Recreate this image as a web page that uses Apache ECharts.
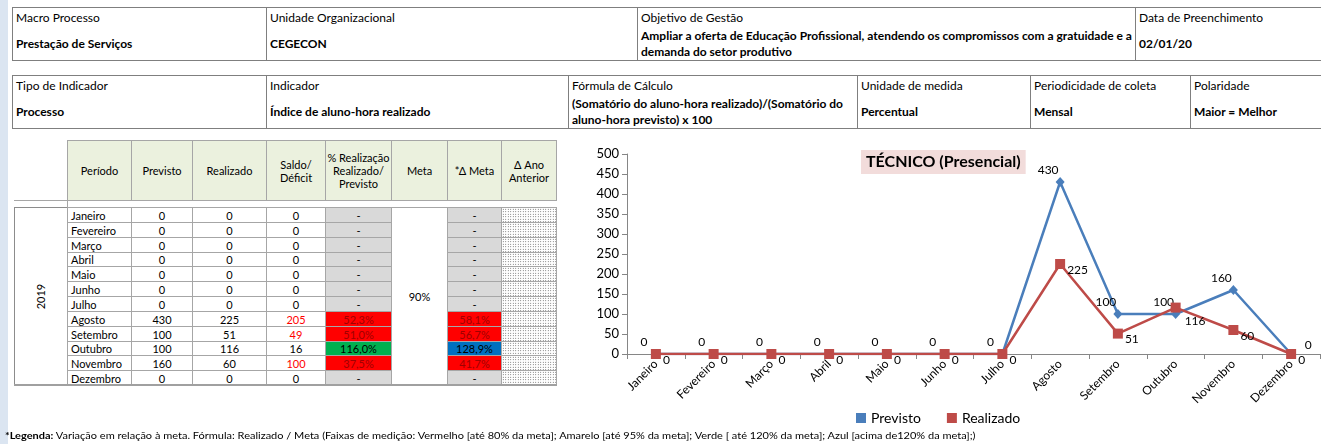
<!DOCTYPE html>
<html><head><meta charset="utf-8">
<script src="https://cdn.jsdelivr.net/npm/echarts@6/dist/echarts.min.js"></script>
<style>
html,body{margin:0;padding:0;background:#fff;}
body{width:1321px;height:444px;position:relative;overflow:hidden;font-family:'Lato','Open Sans',sans-serif;color:#000;}
.abs{position:absolute;box-sizing:border-box;}
.stripe{left:0;top:0;width:8px;height:444px;background:#dbe5f1;}
.ibox{border:1px solid #7f7f7f;}
.lbl{position:absolute;left:3px;font-size:12px;line-height:14px;white-space:nowrap;}
.val{position:absolute;left:3px;font-size:12px;font-weight:bold;line-height:16px;white-space:nowrap;}
.cell{border:1px solid #a6a6a6;display:flex;align-items:center;justify-content:center;font-size:11px;line-height:13px;text-align:center;white-space:nowrap;}
.hdr{background:#ebf1de;}
.left{justify-content:flex-start;padding-left:3px;}
.gray{background:#d9d9d9;}
.dots{background-color:#fff;background-image:radial-gradient(circle,#444 0.55px,transparent 0.75px);background-size:2.5px 2.5px;}
#chart{position:absolute;left:570px;top:140px;width:751px;height:304px;}
#foot{position:absolute;left:5px;top:429px;font-size:10px;line-height:12px;white-space:nowrap;transform-origin:0 0;}
</style></head>
<body>
<div class="abs stripe"></div>
<div id="info"></div>
<div id="tbl"></div>
<div id="chart"></div>
<div id="foot"><b>*Legenda:</b> Variação em relação à meta. Fórmula: Realizado / Meta (Faixas de medição: Vermelho [até 80% da meta]; Amarelo [até 95% da meta]; Verde [ até 120% da meta]; Azul [acima de120% da meta];)</div>
<script>
// ---- data ----
const months = ['Janeiro','Fevereiro','Março','Abril','Maio','Junho','Julho','Agosto','Setembro','Outubro','Novembro','Dezembro'];
const previsto = [0,0,0,0,0,0,0,430,100,100,160,0];
const realizado = [0,0,0,0,0,0,0,225,51,116,60,0];
const saldo = [0,0,0,0,0,0,0,-205,-49,16,-100,0];
const pctRealizacao = ['-','-','-','-','-','-','-','52,3%','51,0%','116,0%','37,5%','-'];
const deltaMeta = ['-','-','-','-','-','-','-','58,1%','56,7%','128,9%','41,7%','-'];
const meta = '90%';
const year = '2019';
const headers = ['Período','Previsto','Realizado','Saldo/<br>Déficit','% Realização<br>Realizado/<br>Previsto','Meta','*Δ Meta','Δ Ano<br>Anterior'];
const infoRow1 = [['Macro Processo',['Prestação de Serviços']],['Unidade Organizacional',['CEGECON']],['Objetivo de Gestão',['Ampliar a oferta de Educação Profissional, atendendo os compromissos com a gratuidade e a','demanda do setor produtivo']],['Data de Preenchimento',['02/01/20']]];
const infoRow2 = [['Tipo de Indicador',['Processo']],['Indicador',['Índice de aluno-hora realizado']],['Fórmula  de Cálculo',['(Somatório do aluno-hora realizado)/(Somatório do','aluno-hora previsto) x 100']],['Unidade de medida',['Percentual']],['Periodicidade de coleta',['Mensal']],['Polaridade',['Maior = Melhor']]];
const seriesNames = ['Previsto','Realizado'];
const chartTitle = 'TÉCNICO (Presencial)';

// ---- info boxes ----
const info = document.getElementById('info');
function infoRow(row, xs, top, h){
  row.forEach((c,i)=>{
    const d=document.createElement('div');
    d.className='abs ibox';
    d.style.left=xs[i]+'px';d.style.top=top+'px';d.style.width=(xs[i+1]-xs[i]+1)+'px';d.style.height=h+'px';
    const l=document.createElement('div');l.className='lbl';l.style.top='3px';l.textContent=c[0];d.appendChild(l);
    const v=document.createElement('div');v.className='val';
    v.style.top=(c[1].length>1?20:28)+'px';
    v.innerHTML=c[1].join('<br>');d.appendChild(v);
    info.appendChild(d);
  });
}
infoRow(infoRow1,[12,266,637,1135,1322],7,54);
infoRow(infoRow2,[12,266,568,857,1030,1190,1322],75,54);

// ---- data table ----
const tbl=document.getElementById('tbl');
const cx=[67,131,192,266,325,391,447,501,556];
function cell(x0,x1,y0,y1,html,cls,style){
  const d=document.createElement('div');
  d.className='abs cell '+(cls||'');
  d.style.left=x0+'px';d.style.top=y0+'px';d.style.width=(x1-x0+1)+'px';d.style.height=(y1-y0+1)+'px';
  d.innerHTML=html;
  if(style) Object.assign(d.style,style);
  tbl.appendChild(d);return d;
}
headers.forEach((h,i)=>cell(cx[i],cx[i+1],140,200,h,'hdr'));
const sep=document.createElement('div');sep.className='abs';
Object.assign(sep.style,{left:'14px',top:'200px',width:'543px',height:'1px',background:'#a6a6a6'});tbl.appendChild(sep);
const vsep=document.createElement('div');vsep.className='abs';
Object.assign(vsep.style,{left:'67px',top:'200px',width:'1px',height:'8px',background:'#a6a6a6'});tbl.appendChild(vsep);
const y0=207, rh=(385-207)/12;
const yc=i=>Math.round(y0+i*rh);
cell(14,67,y0,385,'<span style="display:inline-block;transform:rotate(-90deg);font-size:11px">'+year+'</span>','',{border:'1px solid #8c8c8c'});
function colorFor(s){
  if(s==='-') return null;
  const v=parseFloat(s.replace('%','').replace(',','.'));
  if(v<=80) return ['#ff0000','#a00000'];
  if(v<=95) return ['#ffff00','#000'];
  if(v<=120) return ['#00b050','#000'];
  return ['#0070c0','#000'];
}
months.forEach((m,i)=>{
  const a=yc(i), b=yc(i+1);
  cell(cx[0],cx[1],a,b,m,'left');
  cell(cx[1],cx[2],a,b,String(previsto[i]));
  cell(cx[2],cx[3],a,b,String(realizado[i]));
  cell(cx[3],cx[4],a,b,String(Math.abs(saldo[i])),'',{color:saldo[i]<0?'#ff0000':'#000'});
  [[4,pctRealizacao[i]],[6,deltaMeta[i]]].forEach(([k,s])=>{
    const c=colorFor(s);
    if(c) cell(cx[k],cx[k+1],a,b,s,'',{background:c[0],color:c[1]});
    else cell(cx[k],cx[k+1],a,b,s,'gray');
  });
  cell(cx[7],cx[8],a,b,'','dots');
});
cell(cx[5],cx[6],y0,385,meta,'',{background:'#fff'});
const bot=document.createElement('div');bot.className='abs';
Object.assign(bot.style,{left:'14px',top:'384px',width:'543px',height:'2px',background:'#a0a0a0'});tbl.appendChild(bot);

// footer fit
const foot=document.getElementById('foot');
foot.style.transform='scaleX('+(970/foot.offsetWidth)+')';

// ---- chart ----
const chart=echarts.init(document.getElementById('chart'),null,{renderer:'canvas'});
const FONT="'Lato','Open Sans',sans-serif";
const prevData=previsto.map((v,i)=> i===months.length-1 ? {value:v,label:{position:'right',offset:[8,-9]}} : v);
const realData=realizado.map((v,i)=> i===9 ? {value:v,label:{offset:[2,14]}} : v);
chart.setOption({
  animation:false,
  textStyle:{fontFamily:FONT},
  title:{text:chartTitle,left:291,top:10,padding:[4,5,4,5],backgroundColor:'#f2dcdb',
    textStyle:{fontSize:16,fontWeight:'bold',color:'#000',fontFamily:FONT}},
  legend:{left:281,top:266,itemWidth:10,itemHeight:10,itemGap:26,icon:'rect',
    textStyle:{fontSize:14,color:'#000',fontFamily:FONT},
    data:[{name:seriesNames[0],icon:'rect'},{name:seriesNames[1],icon:'rect'}]},
  grid:{left:57,right:1,top:14,bottom:90,containLabel:false},
  xAxis:{type:'category',data:months,boundaryGap:true,
    axisLine:{lineStyle:{color:'#868686',width:1}},
    axisTick:{show:true,length:5,lineStyle:{color:'#868686'}},
    axisLabel:{rotate:45,interval:0,fontSize:12,color:'#000',margin:8,fontFamily:FONT}},
  yAxis:{type:'value',min:0,max:500,interval:50,
    axisLine:{show:true,lineStyle:{color:'#868686',width:1}},
    axisTick:{show:true,length:5,lineStyle:{color:'#868686'}},
    splitLine:{show:false},
    axisLabel:{fontSize:13,color:'#000',margin:8,fontFamily:FONT}},
  series:[
    {name:seriesNames[0],type:'line',data:prevData,symbol:'diamond',symbolSize:[9,10],
      color:'#4a7ebb',lineStyle:{width:2.5,color:'#4a7ebb'},itemStyle:{color:'#4a7ebb'},z:2,
      label:{show:true,position:'top',distance:1,offset:[-12,0],fontSize:12,color:'#000',fontFamily:FONT}},
    {name:seriesNames[1],type:'line',data:realData,symbol:'rect',symbolSize:10,
      color:'#be4b48',lineStyle:{width:2.5,color:'#be4b48'},itemStyle:{color:'#be4b48'},z:3,
      label:{show:true,position:'right',distance:2,offset:[0,6],fontSize:12,color:'#000',fontFamily:FONT}}
  ]
});
</script>
</body></html>
